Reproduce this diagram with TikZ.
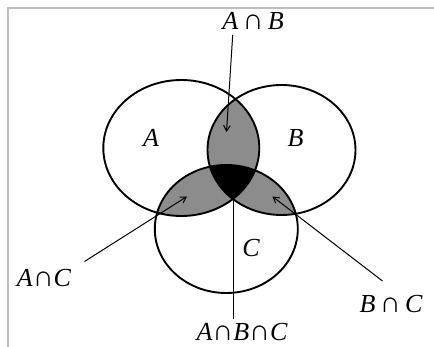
\documentclass[tikz,border=0pt]{standalone}
\usepackage{fontspec}
\setmainfont{Liberation Serif}
\usetikzlibrary{arrows.meta}
\tikzset{
  setline/.style={line width=1.9pt},
  pairfill/.style={fill=black!45},
  setname/.style={font=\fontsize{26}{30}\selectfont\itshape, inner sep=0pt, anchor=base},
  ptrarrow/.style={-{Straight Barb[length=2mm, width=2.4mm]}, line width=1pt},
  ptrline/.style={line width=1pt},
}
% the three sets
\def\setA{(181.3,148) ellipse [x radius=78pt, y radius=68pt]}
\def\setB{(281.5,150) ellipse [x radius=74pt, y radius=65pt]}
\def\setC{(226.3,229) ellipse [x radius=71.5pt, y radius=64pt]}
\newcommand{\capsym}{{\fontsize{29}{30}\selectfont\upshape ∩}}

\begin{document}
\begin{tikzpicture}[x=1pt, y=-1pt]
  \useasboundingbox (0,0) rectangle (434,347);
  \draw[black!25, line width=1.6pt] (8,347) -- (8,8) -- (434,8);

  % shaded intersections
  \begin{scope}
    \clip \setA;
    \fill[pairfill] \setB;
    \fill[pairfill] \setC;
  \end{scope}
  \begin{scope}
    \clip \setB;
    \fill[pairfill] \setC;
    \clip \setC;
    \clip \setA;
    \fill[black] (100,100) rectangle (360,300);
  \end{scope}

  \draw[setline] \setA;
  \draw[setline] \setB;
  \draw[setline] \setC;

  \node[setname] (a) at (151,146.7) {A};
  \node[setname] (b) at (295.5,146.7) {B};
  \node[setname] (c) at (251,257) {C};

  \node[setname] (ab) at (253,30) {A\,\capsym\,B};
  \node[setname] (ac) at (44,287) {A\capsym C};
  \node[setname] (bc) at (391,312.5) {B\,\capsym\,C};
  \node[setname] (abc) at (242,341) {A\capsym B\capsym C};

  \coordinate (abtail) at (232.7,35);
  \coordinate (abtip) at (226.5,132);
  \coordinate (actail) at (84.5,261.5);
  \coordinate (actip) at (187,196.5);
  \coordinate (bctail) at (382.5,281);
  \coordinate (bctip) at (272.5,196.5);
  \coordinate (abctail) at (233.5,319.5);
  \coordinate (abctip) at (233.5,200);

  \draw[ptrarrow] (abtail) -- (abtip);
  \draw[ptrarrow] (actail) -- (actip);
  \draw[ptrarrow] (bctail) -- (bctip);
  \draw[ptrline] (abctail) -- (abctip);
\end{tikzpicture}
\end{document}
